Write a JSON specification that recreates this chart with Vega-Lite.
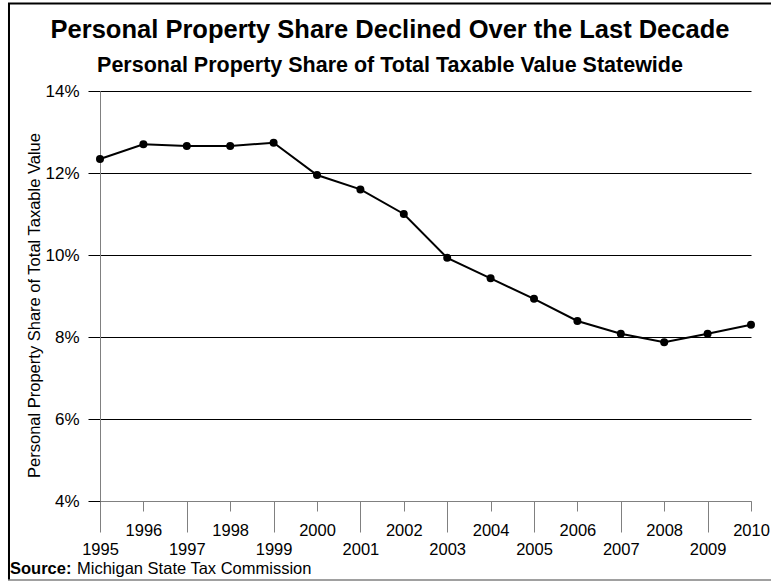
{
  "$schema": "https://vega.github.io/schema/vega-lite/v6.json",
  "width": 651,
  "height": 410,
  "autosize": {"type": "none"},
  "padding": {"left": 100, "top": 91, "right": 20, "bottom": 81},
  "background": "white",
  "config": {"font": "Liberation Sans", "view": {"stroke": null}},
  "title": {
    "text": "Personal Property Share Declined Over the Last Decade",
    "subtitle": "Personal Property Share of Total Taxable Value Statewide",
    "fontSize": 25.5,
    "fontWeight": "bold",
    "color": "black",
    "subtitleFontSize": 21.5,
    "subtitleFontWeight": "bold",
    "subtitleColor": "black",
    "subtitlePadding": 12,
    "anchor": "middle",
    "dx": -35.5,
    "dy": 82,
    "offset": 8
  },
  "layer": [
    {
      "data": {"values": [{"edge": "left"}]},
      "mark": {"type": "rule", "color": "black", "strokeWidth": 2},
      "encoding": {
        "x": {"datum": 1992.903, "type": "quantitative"},
        "y": {"datum": 16.134, "type": "quantitative"},
        "y2": {"datum": 2.073}
      }
    },
    {
      "data": {"values": [{"edge": "top"}]},
      "mark": {"type": "rule", "color": "black", "strokeWidth": 2},
      "encoding": {
        "x": {"datum": 1992.88, "type": "quantitative"},
        "x2": {"datum": 2010.6},
        "y": {"datum": 16.134, "type": "quantitative"}
      }
    },
    {
      "data": {"values": [{"edge": "bottom"}]},
      "mark": {"type": "rule", "color": "#808080", "strokeWidth": 1.5},
      "encoding": {
        "x": {"datum": 1992.88, "type": "quantitative"},
        "x2": {"datum": 2010.6},
        "y": {"datum": 2.073, "type": "quantitative"}
      }
    },
    {
      "data": {
        "values": [
          {"year": 1995, "share": 12.34},
          {"year": 1996, "share": 12.70},
          {"year": 1997, "share": 12.66},
          {"year": 1998, "share": 12.66},
          {"year": 1999, "share": 12.74},
          {"year": 2000, "share": 11.95},
          {"year": 2001, "share": 11.60},
          {"year": 2002, "share": 11.00},
          {"year": 2003, "share": 9.93},
          {"year": 2004, "share": 9.43},
          {"year": 2005, "share": 8.93},
          {"year": 2006, "share": 8.39},
          {"year": 2007, "share": 8.08},
          {"year": 2008, "share": 7.87},
          {"year": 2009, "share": 8.08},
          {"year": 2010, "share": 8.30}
        ]
      },
      "mark": {
        "type": "line",
        "color": "black",
        "strokeWidth": 2,
        "point": {"filled": true, "size": 64, "color": "black", "opacity": 1}
      },
      "encoding": {
        "x": {
          "field": "year",
          "type": "quantitative",
          "scale": {"domain": [1995, 2010], "nice": false, "zero": false},
          "axis": {
            "values": [1995, 1996, 1997, 1998, 1999, 2000, 2001, 2002, 2003, 2004, 2005, 2006, 2007, 2008, 2009, 2010],
            "format": "d",
            "title": null,
            "grid": false,
            "domainColor": "#808080",
            "tickColor": "#808080",
            "tickSize": {"condition": {"test": "datum.value % 2 == 1", "value": 31}, "value": 10},
            "labelPadding": {"condition": {"test": "datum.value % 2 == 1", "value": 9.5}, "value": 11},
            "labelFontSize": 16.5,
            "labelColor": "black",
            "labelFlush": false,
            "labelOverlap": false,
            "labelBound": false
          }
        },
        "y": {
          "field": "share",
          "type": "quantitative",
          "scale": {"domain": [4, 14], "nice": false, "zero": false},
          "axis": {
            "values": [4, 6, 8, 10, 12, 14],
            "labelExpr": "datum.value + '%'",
            "grid": true,
            "gridColor": {"condition": {"test": "datum.value == 4", "value": "#808080"}, "value": "black"},
            "gridOpacity": 1,
            "gridWidth": 1,
            "tickSize": 12,
            "tickColor": "black",
            "labelPadding": 9,
            "labelFontSize": 17,
            "labelColor": "black",
            "domainColor": "#808080",
            "title": "Personal Property Share of Total Taxable Value",
            "titleFontSize": 16.5,
            "titleFontWeight": "normal",
            "titleColor": "black",
            "titleX": -58,
            "titleY": 214,
            "titleBaseline": "bottom"
          }
        }
      }
    },
    {
      "data": {"values": [{"label": "Source:"}]},
      "mark": {"type": "text", "align": "left", "baseline": "middle", "fontWeight": "bold", "fontSize": 16.5, "color": "black"},
      "encoding": {
        "x": {"datum": 1992.926, "type": "quantitative"},
        "y": {"datum": 2.341, "type": "quantitative"},
        "text": {"field": "label"}
      }
    },
    {
      "data": {"values": [{"label": "Michigan State Tax Commission"}]},
      "mark": {"type": "text", "align": "left", "baseline": "middle", "fontWeight": "normal", "fontSize": 16.5, "color": "black"},
      "encoding": {
        "x": {"datum": 1994.47, "type": "quantitative"},
        "y": {"datum": 2.341, "type": "quantitative"},
        "text": {"field": "label"}
      }
    }
  ]
}
